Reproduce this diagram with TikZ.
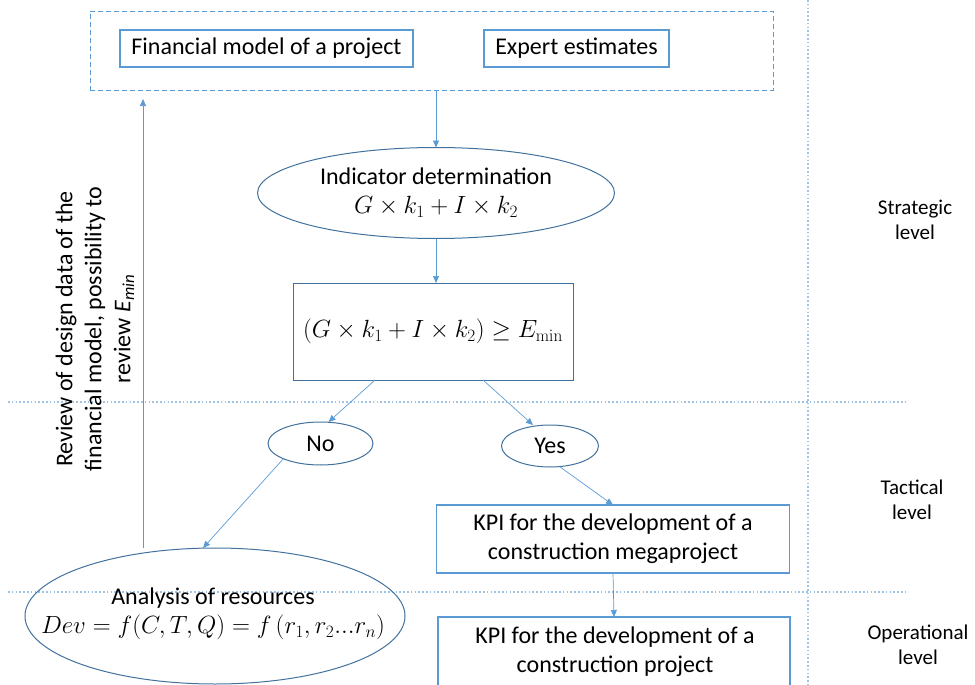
\documentclass[tikz,border=0pt]{standalone}
\usepackage[no-math]{fontspec}
\setmainfont{Carlito}
\usepackage{amsmath}
\usetikzlibrary{arrows.meta, shapes.geometric, calc, positioning}
\definecolor{lineblue}{HTML}{5B9BD5}
\definecolor{rimblue}{HTML}{41719C}
\definecolor{sepblue}{HTML}{9DC3E6}
\tikzset{
  align=center,
  txt/.style={font=\fontsize{24}{29}\selectfont},
  kbox/.style={txt,draw=lineblue,line width=1.3pt,inner sep=0pt,outer sep=0pt},
  oval/.style={txt,ellipse,draw=rimblue,line width=1pt,inner sep=0pt,outer sep=0pt},
  flowto/.style={-{Triangle[length=7pt,width=6pt]},lineblue,line width=0.7pt},
  sepline/.style={sepblue,line width=1.4pt,dash pattern=on 1.6pt off 2.2pt}
}

\begin{document}
\begin{tikzpicture}[x=1pt,y=-1pt]
  \tikzset{lvl/.style={font=\fontsize{21}{25}\selectfont}};
  \clip (0,0) rectangle (975,685);

  % level separators
  \draw[sepline] (8,402) -- (908,402);
  \draw[sepline] (8,592) -- (908,592);
  \draw[sepline] (808,0) -- (808,685);

  % inputs
  \node[kbox,line width=0.8pt,dash pattern=on 5pt off 3pt,minimum width=683,minimum height=79] (inputs) at (431.5,50.5) {};
  \node[kbox,minimum width=293,minimum height=37] (finmodel) at (266.5,48.5) {Financial model of a project};
  \node[kbox,minimum width=185,minimum height=37] (expert) at (576.5,48.5) {Expert estimates};

  % strategic part
  \node[oval,minimum width=357,minimum height=91] (indicator) at (436,193)
    {Indicator determination\\$G\times k_1+I\times k_2$};
  \node[kbox,draw=rimblue,line width=1pt,minimum width=280,minimum height=97] (check) at (433,331.5)
    {$(G\times k_1+I\times k_2)\geq E_{\min}$};

  % tactical part
  \node[oval,minimum width=105,minimum height=43] (no) at (320.5,443.5) {No};
  \node[oval,minimum width=97,minimum height=42] (yes) at (550,446) {Yes};
  \node[kbox,minimum width=353,minimum height=68] (kpimega) at (613,539)
    {KPI for the development of a\\construction megaproject};

  % operational part
  \node[oval,inner xsep=-45pt,inner ysep=-12pt,minimum width=380,minimum height=136] (analysis) at (215,616) {};
  \node[txt] (analysistxt) at (213,614)
    {Analysis of resources\\$Dev=f(C,T,Q)=f\,(r_1,r_2...r_n)$};
  \node[kbox,minimum width=352,minimum height=76] (kpiproj) at (614,655) {};
  \node[txt] (kpiprojtxt) at (615,652)
    {KPI for the development of a\\construction project};

  % feedback note
  \node[txt,rotate=90] (review) at (95,329)
    {Review of design data of the\\financial model, possibility to\\review \textit{E\textsubscript{min}}};

  % levels
  \node[lvl] (strategic) at (915,220) {Strategic\\level};
  \node[lvl] (tactical) at (912,500) {Tactical\\level};
  \node[lvl] (operational) at (918,645) {Operational\\level};

  % connectors
  \draw[flowto] (inputs.south -| indicator.north) -- (indicator.north);
  \draw[flowto] (indicator.south) -- (indicator.south |- check.north);
  \draw[flowto] ([xshift=-58pt]check.south) -- ([xshift=8pt]no.north);
  \draw[flowto] ([xshift=50pt]check.south) -- ([xshift=-17pt]yes.north);
  \draw[flowto] (no.south west) -- ([xshift=-12pt]analysis.north);
  \draw[flowto] (yes.-65) -- (kpimega.north);
  \draw[flowto] (kpimega.south) -- (kpiproj.north);
  \draw[flowto,shorten >=9pt] ([xshift=-72pt]analysis.north) coordinate (fb) -- (fb |- inputs.south);
\end{tikzpicture}
\end{document}
